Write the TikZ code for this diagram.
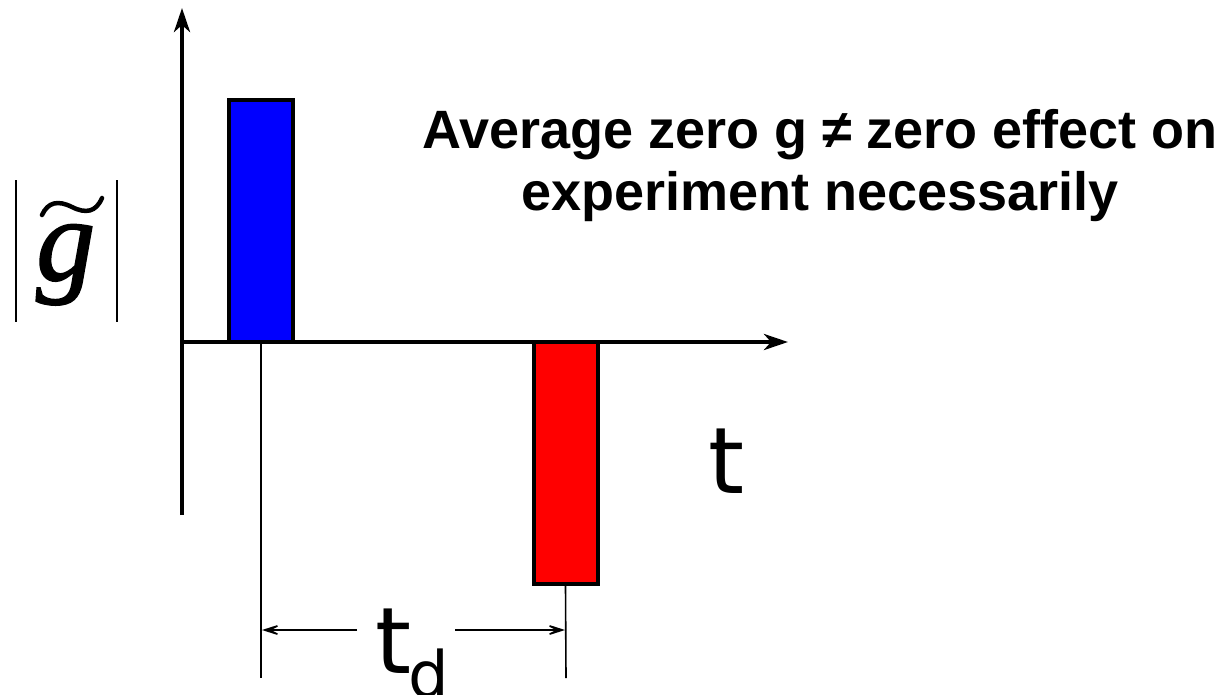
\documentclass[tikz,border=0pt]{standalone}
\usepackage{fontspec}
\setsansfont{Liberation Sans}
\newfontfamily\djv{DejaVu Sans}
\newfontfamily\tnr[FakeBold=1.5]{Liberation Serif}
\usetikzlibrary{arrows.meta}
\begin{document}
\begin{tikzpicture}[x=1pt,y=-1pt,
  axis/.style={line width=4pt,-{Stealth[length=24pt,width=16pt,inset=7pt]}},
  bar/.style={draw,line width=4pt,line join=miter,minimum width=64pt,minimum height=242pt,inner sep=0pt,anchor=center},
  thin/.style={line width=1.6pt},
  dimarrow/.style={line width=1.6pt,-{Stealth[length=25pt,width=16pt,inset=16pt]}},
  bigt/.style={font=\djv\fontsize{92}{92}\selectfont,inner sep=0pt,anchor=base west}]
\useasboundingbox (0,0) rectangle (1220,694);
% axes
\coordinate (origin) at (182,342);
\coordinate (ytip) at (182,8);
\coordinate (ybot) at (182,515);
\coordinate (xtip) at (788,342);
\draw[axis] (ybot) -- (ytip);
\draw[axis] (180,342) -- (xtip);
% bars
\node[bar,fill=blue] (blue) at (261,221) {};
\node[bar,fill=red] (red) at (565.5,463) {};
% guide lines
\coordinate (gl) at (261,678);
\coordinate (gr) at (566,678);
\draw[thin] (261,342) -- (gl);
\draw[thin] (red.south) -- (gr);
% dimension arrows
\coordinate (dl) at (262,630);
\coordinate (dr) at (565,630);
\coordinate (tdl) at (357,630);
\coordinate (tdr) at (455,630);
\draw[dimarrow] (tdl) -- (dl);
\draw[dimarrow] (tdr) -- (dr);
% labels
\node[bigt] (tlabel) at (708,493) {t};
\node[bigt] (tdlabel) at (375,673) {t};
\node[font=\djv\fontsize{64}{64}\selectfont,inner sep=0pt,anchor=base west] (dsub) at (408,697) {d};
% g label
\node[font=\tnr\itshape\fontsize{118}{118}\selectfont,inner sep=0pt,anchor=base west] (glabel) at (36,280) {g};
\coordinate (tl) at (42,215);
\coordinate (tr) at (102,198);
\draw[line width=4.5pt,line cap=round] (tl) .. controls (48,202) and (58,200) .. (72,207) .. controls (86,214) and (96,212) .. (tr);
\coordinate (b1t) at (16,180);
\coordinate (b1b) at (16,322);
\coordinate (b2t) at (117,180);
\coordinate (b2b) at (117,322);
\draw[line width=2pt] (b1t) -- (b1b);
\draw[line width=2pt] (b2t) -- (b2b);
% title
\node[font=\sffamily\bfseries\fontsize{54}{62}\selectfont,align=center,inner sep=0pt,anchor=base] (title) at (820,210) {Average zero g ≠ zero effect on\\experiment necessarily};
\end{tikzpicture}
\end{document}
